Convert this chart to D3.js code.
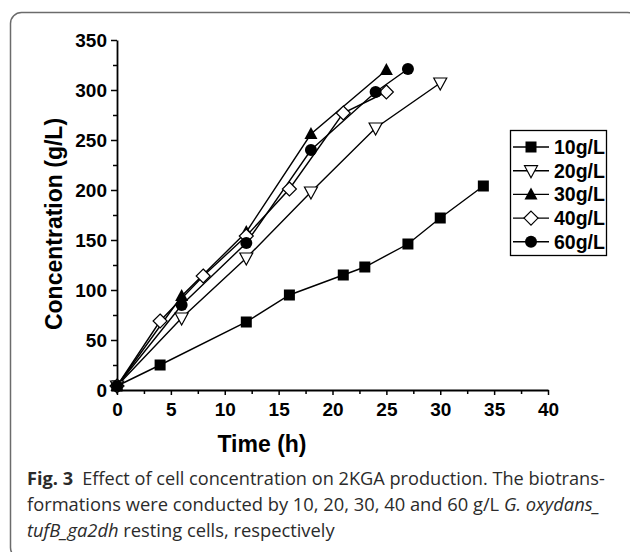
<!DOCTYPE html>
<html>
<head>
<meta charset="utf-8">
<script src="https://cdn.jsdelivr.net/npm/d3@7"></script>
<style>
  body { margin: 0; background: #fff; }
  svg { display: block; }
</style>
</head>
<body>
<div id="chart"></div>
<script>
// series (time in h, concentration in g/L)
const time10 = [0, 4, 12, 16, 21, 23, 27, 30, 34];
const conc10 = [4, 25, 68, 95, 115, 123, 146, 172, 204];
const time20 = [0, 6, 12, 18, 24, 30];
const conc20 = [4, 72, 132, 198, 262, 307];
const time30 = [0, 6, 12, 18, 25];
const conc30 = [4, 94, 158, 256, 320];
const time40 = [0, 4, 8, 12, 16, 21, 25];
const conc40 = [4, 69, 114, 154, 201, 277, 298];
const time60 = [0, 6, 12, 18, 24, 27];
const conc60 = [4, 85, 147, 240, 298, 321];

const seriesNames = ["10g/L", "20g/L", "30g/L", "40g/L", "60g/L"];
const seriesMarkers = ["square", "triangleDown", "triangleUp", "diamond", "circle"];
const xTicks = [0, 5, 10, 15, 20, 25, 30, 35, 40];
const yTicks = [0, 50, 100, 150, 200, 250, 300, 350];

const series = [
  { name: seriesNames[0], marker: seriesMarkers[0], t: time10, c: conc10 },
  { name: seriesNames[1], marker: seriesMarkers[1], t: time20, c: conc20 },
  { name: seriesNames[2], marker: seriesMarkers[2], t: time30, c: conc30 },
  { name: seriesNames[3], marker: seriesMarkers[3], t: time40, c: conc40 },
  { name: seriesNames[4], marker: seriesMarkers[4], t: time60, c: conc60 },
];

const W = 630, H = 552;
const svg = d3.select("#chart").append("svg").attr("width", W).attr("height", H);

// rounded frame around figure + caption
svg.append("rect")
  .attr("x", 10.5).attr("y", 12.5)
  .attr("width", 628).attr("height", 546)
  .attr("rx", 11)
  .attr("fill", "none")
  .attr("stroke", "#6b6b6b")
  .attr("stroke-width", 1.5);

const x = d3.scaleLinear().domain([0, 40]).range([117, 548]);
const y = d3.scaleLinear().domain([0, 350]).range([390, 40]);

const font = "'Liberation Sans', Arial, sans-serif";

// y axis
const yAxis = svg.append("g").attr("transform", `translate(${x(0)},0)`);
yAxis.call(d3.axisLeft(y).tickValues(yTicks).tickSize(6).tickPadding(4).tickSizeOuter(0));
yAxis.append("g").call(d3.axisLeft(y).tickValues(d3.range(25, 350, 50)).tickSize(4).tickFormat("").tickSizeOuter(0))
  .select(".domain").remove();

// x axis
const xAxis = svg.append("g").attr("transform", `translate(0,${y(0)})`);
xAxis.call(d3.axisBottom(x).tickValues(xTicks).tickSize(5).tickPadding(8).tickSizeOuter(0));
xAxis.append("g").call(d3.axisBottom(x).tickValues(d3.range(2.5, 40, 5)).tickSize(4).tickFormat("").tickSizeOuter(0))
  .select(".domain").remove();

svg.selectAll(".domain").attr("stroke", "#000").attr("stroke-width", 1.8);
svg.selectAll(".tick line").attr("stroke", "#000").attr("stroke-width", 1.5);
svg.selectAll(".tick text")
  .attr("fill", "#000")
  .style("font-family", font)
  .style("font-size", "19px")
  .style("font-weight", "bold");

// axis titles
svg.append("text")
  .attr("transform", `translate(62,224) rotate(-90)`)
  .attr("text-anchor", "middle")
  .style("font-family", font)
  .style("font-size", "23px")
  .style("font-weight", "bold")
  .text("Concentration (g/L)");

svg.append("text")
  .attr("x", 262).attr("y", 452)
  .attr("text-anchor", "middle")
  .style("font-family", font)
  .style("font-size", "23px")
  .style("font-weight", "bold")
  .text("Time (h)");

function drawMarker(g, type, cx, cy) {
  if (type === "square") {
    g.append("rect").attr("x", cx - 5.5).attr("y", cy - 5.5).attr("width", 11).attr("height", 11)
      .attr("fill", "#000");
  } else if (type === "circle") {
    g.append("circle").attr("cx", cx).attr("cy", cy).attr("r", 6).attr("fill", "#000");
  } else if (type === "triangleUp") {
    g.append("path").attr("d", `M${cx},${cy - 7}L${cx + 6.5},${cy + 5}L${cx - 6.5},${cy + 5}Z`)
      .attr("fill", "#000");
  } else if (type === "triangleDown") {
    g.append("path").attr("d", `M${cx},${cy + 7}L${cx + 6.5},${cy - 5}L${cx - 6.5},${cy - 5}Z`)
      .attr("fill", "#fff").attr("stroke", "#000").attr("stroke-width", 1.2);
  } else if (type === "diamond") {
    g.append("path").attr("d", `M${cx},${cy - 7}L${cx + 7},${cy}L${cx},${cy + 7}L${cx - 7},${cy}Z`)
      .attr("fill", "#fff").attr("stroke", "#000").attr("stroke-width", 1.2);
  }
}

const line = d3.line().x(d => x(d[0])).y(d => y(d[1]));

series.forEach(s => {
  const pts = s.t.map((t, i) => [t, s.c[i]]);
  svg.append("path")
    .datum(pts)
    .attr("fill", "none")
    .attr("stroke", "#000")
    .attr("stroke-width", 1.4)
    .attr("d", line);
});
series.forEach(s => {
  const g = svg.append("g");
  s.t.forEach((t, i) => drawMarker(g, s.marker, x(t), y(s.c[i])));
});

// legend
const legend = svg.append("g");
legend.append("rect")
  .attr("x", 510.5).attr("y", 130.5).attr("width", 96).attr("height", 125)
  .attr("fill", "#fff").attr("stroke", "#000").attr("stroke-width", 1.3);
series.forEach((s, i) => {
  const ly = 147 + i * 23.7;
  legend.append("line").attr("x1", 513).attr("x2", 549).attr("y1", ly).attr("y2", ly)
    .attr("stroke", "#000").attr("stroke-width", 1.4);
  drawMarker(legend, s.marker, 531, ly);
  legend.append("text")
    .attr("x", 554).attr("y", ly + 7)
    .style("font-family", font)
    .style("font-size", "19.5px")
    .style("font-weight", "bold")
    .text(s.name);
});

// caption, squeezed horizontally to the printed line widths
const capFont = "'Open Sans', 'Noto Sans', sans-serif";
const capLines = [
  { y: 485, width: 578, parts: [["Fig. 3", "bold", "normal"], ["\u2002Effect of cell concentration on 2KGA production. The biotrans-", "normal", "normal"]] },
  { y: 511, width: 573, parts: [["formations were conducted by 10, 20, 30, 40 and 60 g/L ", "normal", "normal"], ["G. oxydans_", "normal", "italic"]] },
  { y: 537, width: null, parts: [["tufB_ga2dh", "normal", "italic"], [" resting cells, respectively", "normal", "normal"]] },
];
let lastScale = 1;
capLines.forEach(l => {
  const g = svg.append("g");
  const t = g.append("text")
    .attr("x", 0).attr("y", 0)
    .attr("fill", "#2b2b2b")
    .style("font-family", capFont)
    .style("font-size", "18px");
  l.parts.forEach(p => {
    t.append("tspan").attr("font-weight", p[1]).attr("font-style", p[2]).text(p[0]);
  });
  const w = t.node().getComputedTextLength();
  const sc = l.width ? l.width / w : lastScale;
  lastScale = sc;
  g.attr("transform", `translate(27,${l.y}) scale(${sc},1)`);
});
</script>
</body>
</html>
